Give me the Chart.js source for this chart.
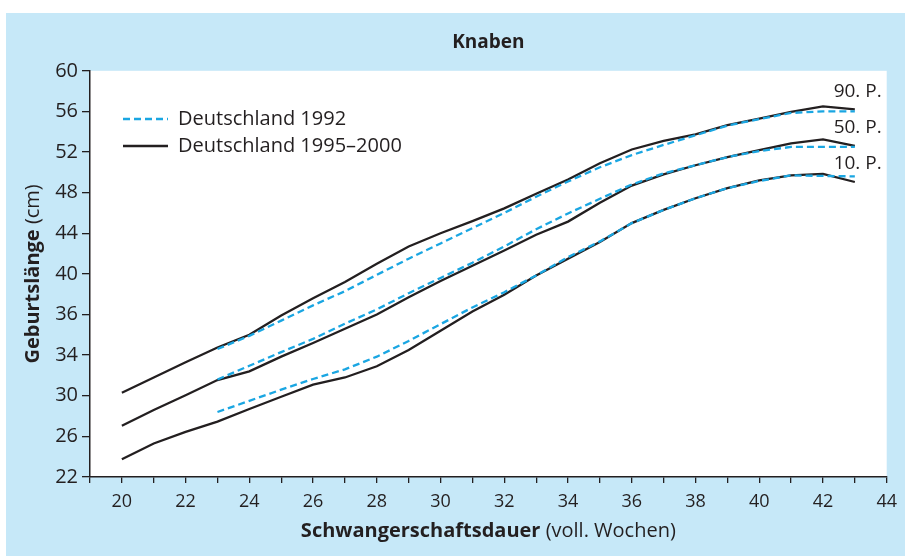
<!DOCTYPE html>
<html lang="de">
<head>
<meta charset="UTF-8">
<title>Geburtslänge Knaben</title>
<script src="https://cdn.jsdelivr.net/npm/chart.js"></script>
<style>
  html, body { margin: 0; padding: 0; background: #fff; }
  #panel { position: absolute; left: 6px; top: 13px; width: 899px; height: 543px; background: #c6e8f8; }
  canvas { display: block; }
</style>
</head>
<body>
<div id="panel"><canvas id="chart" width="899" height="543"></canvas></div>
<script>
// Schwangerschaftswochen
const weeks = [20, 21, 22, 23, 24, 25, 26, 27, 28, 29, 30, 31, 32, 33, 34, 35, 36, 37, 38, 39, 40, 41, 42, 43];

// Deutschland 1992 (gestrichelt), erst ab Woche 23
const p90_1992 = [null, null, null, 32.6, 33.9, 35.4, 36.9, 38.3, 39.9, 41.5, 43.0, 44.5, 46.0, 47.6, 49.1, 50.5, 51.7, 52.7, 53.65, 54.6, 55.25, 55.85, 56.0, 56.0];
const p50_1992 = [null, null, null, 29.6, 30.95, 32.3, 33.6, 35.1, 36.5, 38.1, 39.6, 41.1, 42.7, 44.4, 45.95, 47.4, 48.8, 49.9, 50.7, 51.5, 52.1, 52.5, 52.5, 52.5];
const p10_1992 = [null, null, null, 26.4, 27.5, 28.6, 29.65, 30.6, 31.85, 33.4, 35.05, 36.7, 38.2, 39.85, 41.65, 43.2, 45.0, 46.3, 47.45, 48.45, 49.15, 49.7, 49.65, 49.6];

// Deutschland 1995-2000 (durchgezogen)
const p90_2000 = [28.3, 29.8, 31.3, 32.75, 34.0, 35.9, 37.6, 39.2, 41.0, 42.7, 44.0, 45.2, 46.45, 47.9, 49.3, 50.9, 52.25, 53.1, 53.75, 54.65, 55.3, 55.95, 56.5, 56.2];
const p50_2000 = [25.05, 26.6, 28.05, 29.55, 30.4, 31.85, 33.2, 34.6, 36.0, 37.7, 39.3, 40.8, 42.3, 43.85, 45.15, 47.0, 48.7, 49.8, 50.7, 51.5, 52.2, 52.85, 53.25, 52.6];
const p10_2000 = [21.75, 23.3, 24.45, 25.45, 26.7, 27.9, 29.1, 29.8, 30.9, 32.5, 34.4, 36.3, 37.95, 39.85, 41.5, 43.15, 45.0, 46.3, 47.45, 48.45, 49.2, 49.7, 49.85, 49.05];

// Achsenbeschriftung wie im Original (von unten nach oben)
const yTickLabels = ['22', '26', '30', '34', '36', '40', '44', '48', '52', '56', '60'];
const percentileLabels = ['90. P.', '50. P.', '10. P.'];
const legendNames = ['Deutschland 1992', 'Deutschland 1995–2000'];
const xTitleParts = [['Schwangerschaftsdauer', 'bold'], [' (voll. Wochen)', 'normal']];
const yTitleParts = [['Geburtslänge', 'bold'], [' (cm)', 'normal']];

const FONT = "'Open Sans', sans-serif";
const INK = '#231f20';
const BLUE = '#1aa6e2';

function series(values) {
  return weeks.map((w, i) => ({ x: w, y: values[i] }));
}

const datasets = [
  ...[p90_1992, p50_1992, p10_1992].map(v => ({
    label: legendNames[0], data: series(v),
    borderColor: BLUE, borderDash: [7, 4], borderWidth: 2.3
  })),
  ...[p90_2000, p50_2000, p10_2000].map(v => ({
    label: legendNames[1], data: series(v),
    borderColor: INK, borderWidth: 2.3
  }))
];

function drawMixed(ctx, parts, cx, cy, size) {
  const widths = parts.map(([t, w]) => { ctx.font = `${w} ${size}px ${FONT}`; return ctx.measureText(t).width; });
  let x = cx - widths.reduce((a, b) => a + b, 0) / 2;
  parts.forEach(([t, w], i) => {
    ctx.font = `${w} ${size}px ${FONT}`;
    ctx.fillText(t, x, cy);
    x += widths[i];
  });
}

const plotBackground = {
  id: 'plotBackground',
  beforeDraw(chart) {
    const { ctx, chartArea: a } = chart;
    ctx.save();
    ctx.fillStyle = '#fff';
    ctx.fillRect(a.left, a.top, a.right - a.left, a.bottom - a.top);
    ctx.restore();
  },
  afterLayout(chart) {
    // Legende innerhalb der Zeichenfläche nach rechts unten setzen
    const lg = chart.legend, dx = 26, dy = 89;
    lg.left += dx; lg.right += dx; lg.top += dy; lg.bottom += dy;
    (lg.legendHitBoxes || []).forEach(h => { h.left += dx; h.top += dy; });
  }
};

const annotations = {
  id: 'annotations',
  afterDraw(chart) {
    const { ctx, chartArea: a } = chart;
    ctx.save();
    ctx.fillStyle = INK;
    ctx.textBaseline = 'middle';
    ctx.textAlign = 'left';
    drawMixed(ctx, xTitleParts, (a.left + a.right) / 2, 518, 20);
    // Perzentil-Beschriftung über den Linienenden
    ctx.font = `19px ${FONT}`;
    ctx.textAlign = 'right';
    percentileLabels.forEach((t, i) => {
      const pts = chart.getDatasetMeta(i + 3).data;
      ctx.fillText(t, a.right - 5, pts[pts.length - 1].y - 18);
    });
    ctx.textAlign = 'left';
    ctx.translate(27, (a.top + a.bottom) / 2);
    ctx.rotate(-Math.PI / 2);
    drawMixed(ctx, yTitleParts, 0, 0, 20);
    ctx.restore();
  }
};

new Chart(document.getElementById('chart'), {
  type: 'line',
  data: { datasets: datasets },
  options: {
    responsive: false,
    animation: false,
    layout: { padding: { left: 0, right: 17, top: 0, bottom: 0 } },
    elements: { point: { radius: 0 }, line: { tension: 0, fill: false } },
    scales: {
      x: {
        type: 'linear', min: 19, max: 44,
        afterFit: s => { s.height = 79; },
        border: { color: INK, width: 1.5 },
        grid: { drawOnChartArea: false, color: INK, lineWidth: 1.3, tickLength: 6 },
        ticks: {
          stepSize: 1, autoSkip: false, maxRotation: 0, padding: 8,
          color: INK, font: { family: FONT, size: 18 },
          callback: v => (v % 2 === 0 && v >= 20 ? String(v) : '')
        }
      },
      y: {
        min: 20, max: 60,
        afterFit: s => { s.width = 84; },
        border: { color: INK, width: 1.5 },
        grid: { drawOnChartArea: false, color: INK, lineWidth: 1.3, tickLength: 8 },
        ticks: {
          stepSize: 4, padding: 4,
          color: INK, font: { family: FONT, size: 20 },
          callback: (v, i) => yTickLabels[i]
        }
      }
    },
    plugins: {
      title: {
        display: true, text: 'Knaben', fullSize: false, color: INK,
        font: { family: FONT, size: 19, weight: 'bold' },
        padding: { top: 18, bottom: 17 }
      },
      legend: {
        position: 'chartArea', align: 'start',
        labels: {
          filter: item => item.datasetIndex === 0 || item.datasetIndex === 3,
          generateLabels: chart => Chart.defaults.plugins.legend.labels.generateLabels(chart).map(item => {
            const ds = chart.data.datasets[item.datasetIndex];
            return Object.assign(item, { lineDash: ds.borderDash || [], lineWidth: ds.borderWidth, strokeStyle: ds.borderColor });
          }),
          usePointStyle: true, pointStyle: 'line', pointStyleWidth: 45,
          color: INK, font: { family: FONT, size: 20 }, padding: 7
        }
      },
      tooltip: { enabled: false }
    }
  },
  plugins: [plotBackground, annotations]
});
</script>
</body>
</html>
